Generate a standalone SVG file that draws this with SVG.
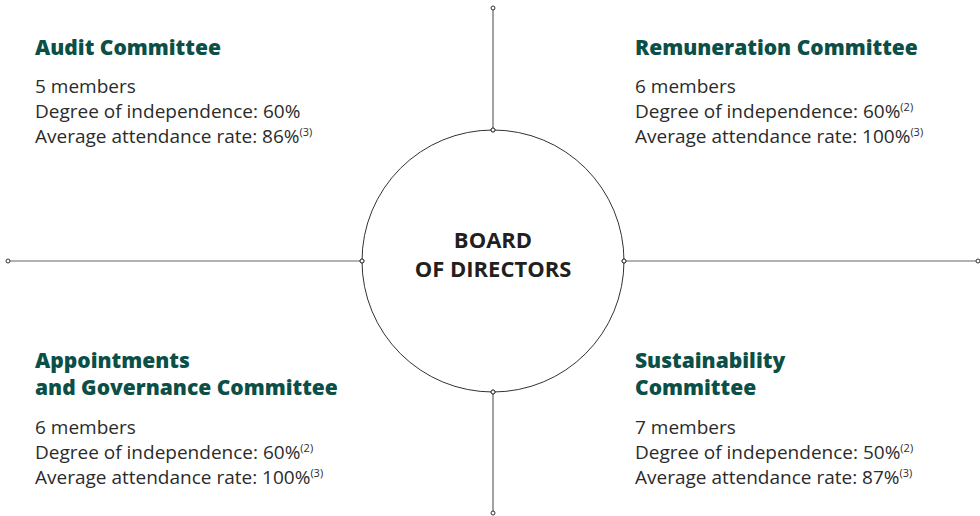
<svg xmlns="http://www.w3.org/2000/svg" width="980" height="516" viewBox="0 0 980 516">
<style>
.h{font-family:"Open Sans",sans-serif;font-weight:800;font-size:21px;fill:#0b4f47}
.b{font-family:"Open Sans",sans-serif;font-size:19px;fill:#2b2b2b}
.s{font-size:11px}
.c{font-family:"Open Sans",sans-serif;font-weight:700;font-size:22px;fill:#231f20;text-anchor:middle}
.ln{stroke:#666;stroke-width:1.2;fill:none}
.dot{fill:#fff;stroke:#333;stroke-width:1}
</style>
<rect width="980" height="516" fill="#fff"/>
<g id="connectors">
<line class="ln" x1="493" y1="8" x2="493" y2="130"/>
<line class="ln" x1="493" y1="392" x2="493" y2="513"/>
<line class="ln" x1="8" y1="261" x2="362" y2="261"/>
<line class="ln" x1="624" y1="261" x2="978" y2="261"/>
<circle class="dot" cx="493" cy="8" r="2"/>
<circle class="dot" cx="493" cy="130" r="2"/>
<circle class="dot" cx="493" cy="392" r="2"/>
<circle class="dot" cx="493" cy="513" r="2"/>
<circle class="dot" cx="8" cy="261" r="2"/>
<circle class="dot" cx="362" cy="261" r="2"/>
<circle class="dot" cx="624" cy="261" r="2"/>
<circle class="dot" cx="978" cy="261" r="2"/>
</g>
<g id="board">
<circle cx="493" cy="261" r="131" fill="none" stroke="#333" stroke-width="1"/>
<circle class="dot" cx="493" cy="130" r="2"/>
<circle class="dot" cx="493" cy="392" r="2"/>
<circle class="dot" cx="362" cy="261" r="2"/>
<circle class="dot" cx="624" cy="261" r="2"/>
<text class="c" x="493" y="248">BOARD</text>
<text class="c" x="493" y="277">OF DIRECTORS</text>
</g>
<g id="audit">
<text class="h" x="35" y="55">Audit Committee</text>
<text class="b" x="35" y="93">5 members</text>
<text class="b" x="35" y="118">Degree of independence: 60%</text>
<text class="b" x="35" y="143">Average attendance rate: 86%<tspan class="s" dy="-7">(3)</tspan></text>
</g>
<g id="remuneration">
<text class="h" x="635" y="55">Remuneration Committee</text>
<text class="b" x="635" y="93">6 members</text>
<text class="b" x="635" y="118">Degree of independence: 60%<tspan class="s" dy="-7">(2)</tspan></text>
<text class="b" x="635" y="143">Average attendance rate: 100%<tspan class="s" dy="-7">(3)</tspan></text>
</g>
<g id="appointments">
<text class="h" x="35" y="368">Appointments</text>
<text class="h" x="35" y="395">and Governance Committee</text>
<text class="b" x="35" y="434">6 members</text>
<text class="b" x="35" y="459">Degree of independence: 60%<tspan class="s" dy="-7">(2)</tspan></text>
<text class="b" x="35" y="484">Average attendance rate: 100%<tspan class="s" dy="-7">(3)</tspan></text>
</g>
<g id="sustainability">
<text class="h" x="635" y="368">Sustainability</text>
<text class="h" x="635" y="395">Committee</text>
<text class="b" x="635" y="434">7 members</text>
<text class="b" x="635" y="459">Degree of independence: 50%<tspan class="s" dy="-7">(2)</tspan></text>
<text class="b" x="635" y="484">Average attendance rate: 87%<tspan class="s" dy="-7">(3)</tspan></text>
</g>
</svg>
